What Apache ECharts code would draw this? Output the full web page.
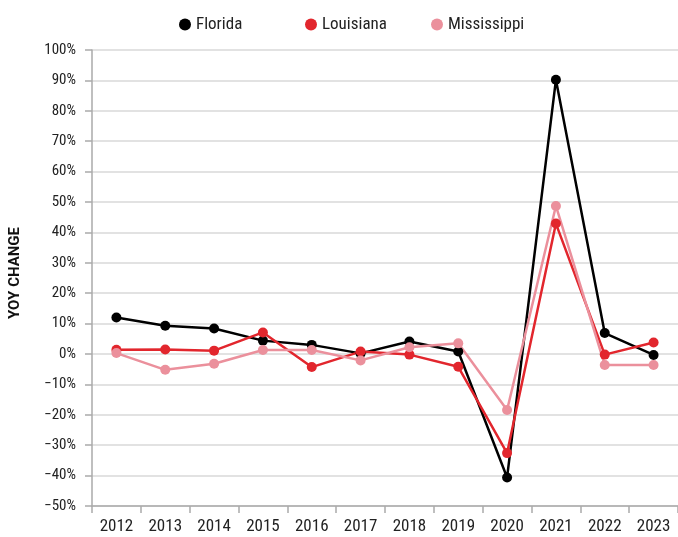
<!DOCTYPE html>
<html>
<head>
<meta charset="utf-8">
<script src="https://cdn.jsdelivr.net/npm/echarts@6/dist/echarts.min.js"></script>
<style>
html,body{margin:0;padding:0;background:#fff;}
#chart{width:678px;height:537px;}
</style>
</head>
<body>
<div id="chart"></div>
<script>
const years = ['2012','2013','2014','2015','2016','2017','2018','2019','2020','2021','2022','2023'];
const florida = [12.0, 9.3, 8.4, 4.4, 3.0, 0.2, 4.1, 0.8, -40.6, 90.2, 6.9, -0.3];
const louisiana = [1.4, 1.5, 1.1, 7.1, -4.3, 0.8, -0.2, -4.2, -32.6, 42.9, -0.2, 3.8];
const mississippi = [0.3, -5.2, -3.2, 1.3, 1.3, -2.1, 2.2, 3.5, -18.4, 48.7, -3.6, -3.6];
const seriesNames = ['Florida', 'Louisiana', 'Mississippi'];
const seriesColors = ['#000000', '#e2262d', '#eb909c'];

const FONT = "'Roboto Condensed', 'DejaVu Sans Condensed', sans-serif";
const chart = echarts.init(document.getElementById('chart'));

function mk(name, data, color) {
  return {
    name: name, type: 'line', data: data,
    symbol: 'circle', symbolSize: 10,
    lineStyle: {width: 2.5, color: color},
    itemStyle: {color: color},
    emphasis: {disabled: true}
  };
}

const legendLefts = [174, 300, 426];
chart.setOption({
  animation: false,
  textStyle: {fontFamily: FONT},
  legend: seriesNames.map((n, i) => ({
    top: 11, left: legendLefts[i],
    icon: 'circle', itemWidth: 12, itemHeight: 12,
    textStyle: {fontFamily: FONT, fontSize: 17, color: '#222', padding: [0, 0, 0, 0]},
    data: [n]
  })),
  grid: {left: 88, right: -3, top: 50, bottom: 31, containLabel: false},
  xAxis: {
    type: 'category', data: years, boundaryGap: true,
    axisLine: {onZero: false, lineStyle: {color: '#aaa', width: 1.5}},
    axisTick: {show: true, length: 7, lineStyle: {color: '#aaa', width: 1.5}},
    axisLabel: {fontFamily: FONT, fontSize: 17, color: '#222', margin: 12},
    splitLine: {show: false}
  },
  yAxis: {
    type: 'value', min: -50, max: 100, interval: 10,
    name: 'YOY CHANGE', nameLocation: 'middle', nameGap: 69,
    nameTextStyle: {fontFamily: "'Roboto', sans-serif", fontSize: 15, fontWeight: 'bold', color: '#111', padding: [0, 0, 0, 10]},
    axisLine: {show: true, lineStyle: {color: '#aaa', width: 1.5}},
    axisTick: {show: true, length: 7, lineStyle: {color: '#aaa', width: 1.5}},
    axisLabel: {fontFamily: FONT, fontSize: 15, color: '#222', margin: 16,
      formatter: v => (v < 0 ? '\u2212' + Math.abs(v) : v) + '%'},
    splitLine: {lineStyle: {color: '#d9d9d9', width: 1.5}}
  },
  series: seriesNames.map((n, i) => mk(n, [florida, louisiana, mississippi][i], seriesColors[i]))
});
</script>
</body>
</html>
